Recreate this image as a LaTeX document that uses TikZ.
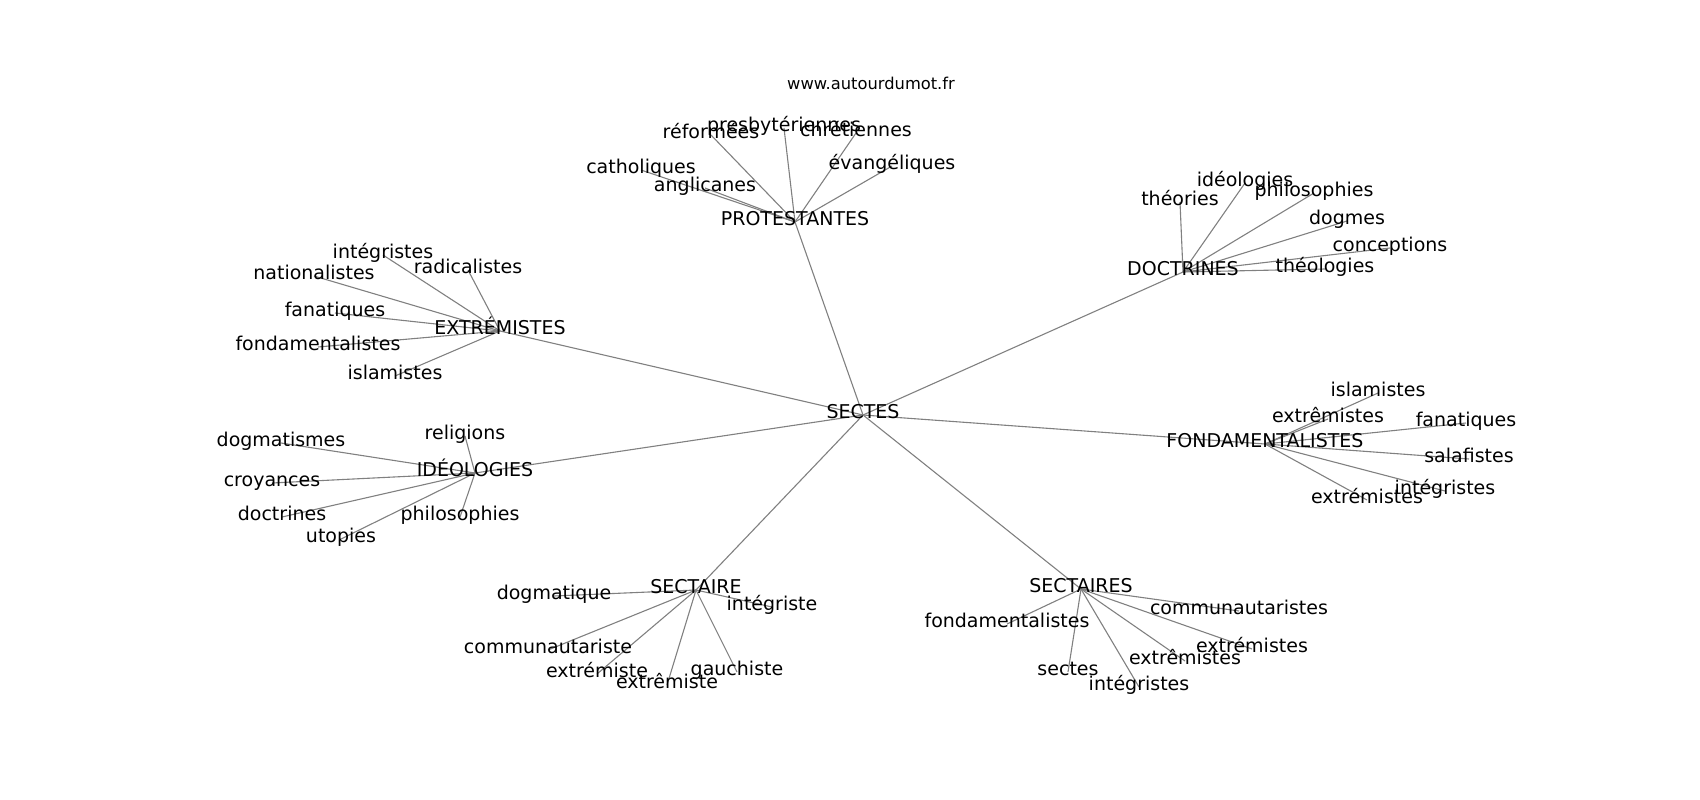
\documentclass[tikz,border=0pt]{standalone}
\usepackage{fontspec}
\setmainfont{DejaVu Sans}
\usetikzlibrary{backgrounds}
\tikzset{
  lbl/.style={inner sep=0pt, font=\fontsize{19}{19}\selectfont, text height=0.72em, text depth=0pt, anchor=center},
  url/.style={inner sep=0pt, font=\fontsize{16.3}{16.3}\selectfont, text height=0.72em, text depth=0pt, anchor=center},
  edge/.style={draw=black!50, line width=1.1pt}
}
\begin{document}
\begin{tikzpicture}[x=1pt,y=-1pt]
\useasboundingbox (0,0) rectangle (1700,800);
\begin{scope}[yshift=-4pt]
\node[url] (url) at (871,82) {www.autourdumot.fr};
% hub
\node[lbl] (sectes) at (863,411) {SECTES};
% PROTESTANTES
\node[lbl] (prot) at (795,218) {PROTESTANTES};
\node[lbl] (p1) at (711,131) {réformées};
\node[lbl] (p2) at (784,124) {presbytériennes};
\node[lbl] (p3) at (856,129) {chrétiennes};
\node[lbl] (p4) at (641,166) {catholiques};
\node[lbl] (p5) at (705,184) {anglicanes};
\node[lbl] (p6) at (892,162) {évangéliques};
% EXTREMISTES
\node[lbl] (ext) at (500,327) {EXTRÉMISTES};
\node[lbl] (e1) at (383,251) {intégristes};
\node[lbl] (e2) at (468,266) {radicalistes};
\node[lbl] (e3) at (314,272) {nationalistes};
\node[lbl] (e4) at (335,309) {fanatiques};
\node[lbl] (e5) at (318,343) {fondamentalistes};
\node[lbl] (e6) at (395,372) {islamistes};
% DOCTRINES
\node[lbl] (doc) at (1183,268) {DOCTRINES};
\node[lbl] (d1) at (1245,179) {idéologies};
\node[lbl] (d2) at (1180,198) {théories};
\node[lbl] (d3) at (1314,189) {philosophies};
\node[lbl] (d4) at (1347,217) {dogmes};
\node[lbl] (d5) at (1390,244) {conceptions};
\node[lbl] (d6) at (1325,265) {théologies};
% FONDAMENTALISTES
\node[lbl] (fond) at (1265,440) {FONDAMENTALISTES};
\node[lbl] (f1) at (1378,389) {islamistes};
\node[lbl] (f2) at (1328,415) {extrêmistes};
\node[lbl] (f3) at (1466,419) {fanatiques};
\node[lbl] (f4) at (1469,455) {salafistes};
\node[lbl] (f5) at (1445,487) {intégristes};
\node[lbl] (f6) at (1367,496) {extrémistes};
% IDEOLOGIES
\node[lbl] (ideo) at (475,469) {IDÉOLOGIES};
\node[lbl] (i1) at (465,432) {religions};
\node[lbl] (i2) at (281,439) {dogmatismes};
\node[lbl] (i3) at (272,479) {croyances};
\node[lbl] (i4) at (282,513) {doctrines};
\node[lbl] (i5) at (460,513) {philosophies};
\node[lbl] (i6) at (341,535) {utopies};
% SECTAIRE
\node[lbl] (sct) at (696,586) {SECTAIRE};
\node[lbl] (s1) at (554,592) {dogmatique};
\node[lbl] (s2) at (772,603) {intégriste};
\node[lbl] (s3) at (548,646) {communautariste};
\node[lbl] (s4) at (597,670) {extrémiste};
\node[lbl] (s5) at (667,681) {extrêmiste};
\node[lbl] (s6) at (737,668) {gauchiste};
% SECTAIRES
\node[lbl] (scts) at (1081,585) {SECTAIRES};
\node[lbl] (t1) at (1007,620) {fondamentalistes};
\node[lbl] (t2) at (1239,607) {communautaristes};
\node[lbl] (t3) at (1252,645) {extrémistes};
\node[lbl] (t4) at (1185,657) {extrêmistes};
\node[lbl] (t5) at (1068,668) {sectes};
\node[lbl] (t6) at (1139,683) {intégristes};
\end{scope}
\begin{scope}[on background layer]
\foreach \h in {prot,ext,doc,fond,ideo,sct,scts}
  \draw[edge] (sectes.center) -- (\h.center);
\foreach \a in {p1,p2,p3,p4,p5,p6}
  \draw[edge] (prot.center) -- (\a.center);
\foreach \a in {e1,e2,e3,e4,e5,e6}
  \draw[edge] (ext.center) -- (\a.center);
\foreach \a in {d1,d2,d3,d4,d5,d6}
  \draw[edge] (doc.center) -- (\a.center);
\foreach \a in {f1,f2,f3,f4,f5,f6}
  \draw[edge] (fond.center) -- (\a.center);
\foreach \a in {i1,i2,i3,i4,i5,i6}
  \draw[edge] (ideo.center) -- (\a.center);
\foreach \a in {s1,s2,s3,s4,s5,s6}
  \draw[edge] (sct.center) -- (\a.center);
\foreach \a in {t1,t2,t3,t4,t5,t6}
  \draw[edge] (scts.center) -- (\a.center);
\end{scope}
\end{tikzpicture}
\end{document}
